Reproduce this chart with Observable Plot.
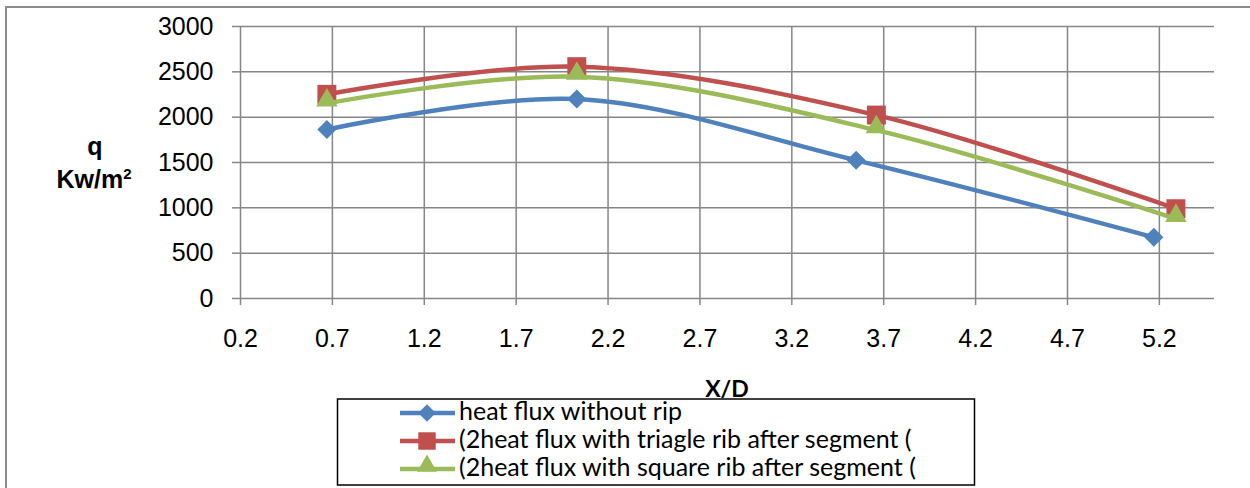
<!DOCTYPE html>
<html>
<head>
<meta charset="utf-8">
<script src="https://cdn.jsdelivr.net/npm/d3@7"></script>
<script src="https://cdn.jsdelivr.net/npm/@observablehq/plot@0.6"></script>
<style>
  body { margin: 0; background: #fff; }
  #wrap { position: relative; width: 1250px; height: 488px; overflow: hidden; background: #fff; }
  #frame { position: absolute; left: 5px; top: 6px; width: 1300px; height: 600px; border: 2px solid #8c8c8c; box-sizing: border-box; }
  #chart { position: absolute; left: 0; top: 0; }
  #overlay { position: absolute; left: 0; top: 0; }
</style>
</head>
<body>
<div id="wrap">
  <div id="frame"></div>
  <div id="chart"></div>
  <svg id="overlay" width="1250" height="488"></svg>
</div>
<script>
// ---- data ----
const xTicks = [0.2, 0.7, 1.2, 1.7, 2.2, 2.7, 3.2, 3.7, 4.2, 4.7, 5.2];
const yTicks = [0, 500, 1000, 1500, 2000, 2500, 3000];
const seriesNames = [
  "heat flux without rip",
  "(2heat flux with triagle rib after segment (",
  "(2heat flux with square rib after segment ("
];
const seriesColors = ["#4F81BD", "#C0504D", "#9BBB59"];
const seriesSymbols = ["diamond2", "square", "triangle"];

const xNoRib = [0.67, 2.03, 3.55, 5.17];
const qNoRib = [1864, 2200, 1524, 675];
const xTriangleRib = [0.67, 2.03, 3.66, 5.29];
const qTriangleRib = [2252, 2557, 2023, 990];
const xSquareRib = [0.67, 2.03, 3.66, 5.29];
const qSquareRib = [2152, 2447, 1857, 879];

// ---- build ----
const seriesData = [
  xNoRib.map((x, i) => ({x, q: qNoRib[i]})),
  xTriangleRib.map((x, i) => ({x, q: qTriangleRib[i]})),
  xSquareRib.map((x, i) => ({x, q: qSquareRib[i]}))
];
const markerR = [8.6, 10.7, 8.0];
const markerDy = [0, 0, -3];
const gridColor = "#868686";

const seriesMarks = [];
seriesData.forEach((data, i) => {
  seriesMarks.push(Plot.line(data, {x: "x", y: "q", stroke: seriesColors[i], strokeWidth: 4.5, curve: "catmull-rom"}));
  seriesMarks.push(Plot.dot(data, {x: "x", y: "q", symbol: seriesSymbols[i], r: markerR[i], fill: seriesColors[i], stroke: "none", dy: markerDy[i]}));
});

const chart = Plot.plot({
  width: 1250,
  height: 488,
  marginLeft: 240,
  marginRight: 36,
  marginTop: 26,
  marginBottom: 190,
  style: {background: "transparent", fontFamily: "'Liberation Sans', Arial, sans-serif", fontSize: "25px", color: "#000"},
  x: {domain: [0.2, 5.5]},
  y: {domain: [0, 3000]},
  marks: [
    Plot.ruleX(xTicks, {stroke: gridColor, strokeWidth: 1.5}),
    Plot.ruleY(yTicks, {stroke: gridColor, strokeWidth: 1.5}),
    Plot.axisY(yTicks, {tickSize: 8, tickPadding: 19, stroke: gridColor, strokeWidth: 1.5, fill: "#000", fontSize: 25, label: null, tickFormat: d => String(d)}),
    Plot.axisX(xTicks, {tickSize: 7, tickPadding: 24, stroke: gridColor, strokeWidth: 1.5, fill: "#000", fontSize: 25, label: null, tickFormat: d => d.toFixed(1)}),
    ...seriesMarks
  ]
});
document.getElementById("chart").appendChild(chart);

// ---- titles and legend ----
const ov = d3.select("#overlay");
ov.append("text").attr("x", 95).attr("y", 155).attr("text-anchor", "middle")
  .attr("font-family", "'Liberation Sans', Arial, sans-serif").attr("font-weight", "bold").attr("font-size", 25).text("q");
const kw = ov.append("text").attr("x", 94).attr("y", 188).attr("text-anchor", "middle")
  .attr("font-family", "'Liberation Sans', Arial, sans-serif").attr("font-weight", "bold").attr("font-size", 25);
kw.append("tspan").text("Kw/m");
kw.append("tspan").attr("font-size", 15).attr("dy", -9).text("2");

ov.append("text").attr("x", 727).attr("y", 397).attr("text-anchor", "middle")
  .attr("font-family", "Lato, sans-serif").attr("font-weight", "bold").attr("font-size", 23).text("X/D");

ov.append("rect").attr("x", 337.5).attr("y", 399).attr("width", 637).attr("height", 86)
  .attr("fill", "none").attr("stroke", "#000").attr("stroke-width", 1.5);

const symMap = {diamond2: d3.symbolDiamond2, square: d3.symbolSquare, triangle: d3.symbolTriangle};
const rowY = [413, 441, 469];
seriesNames.forEach((name, i) => {
  const cy = rowY[i];
  ov.append("line").attr("x1", 400).attr("x2", 455).attr("y1", cy).attr("y2", cy)
    .attr("stroke", seriesColors[i]).attr("stroke-width", 4.5);
  const r = markerR[i] * 0.92;
  ov.append("path").attr("d", d3.symbol(symMap[seriesSymbols[i]], r * r * Math.PI)())
    .attr("transform", `translate(427,${cy + markerDy[i]})`).attr("fill", seriesColors[i]);
  ov.append("text").attr("x", 459).attr("y", cy + 7).attr("font-family", "Lato, sans-serif")
    .attr("font-size", 25).attr("fill", "#000").text(name);
});
</script>
</body>
</html>
